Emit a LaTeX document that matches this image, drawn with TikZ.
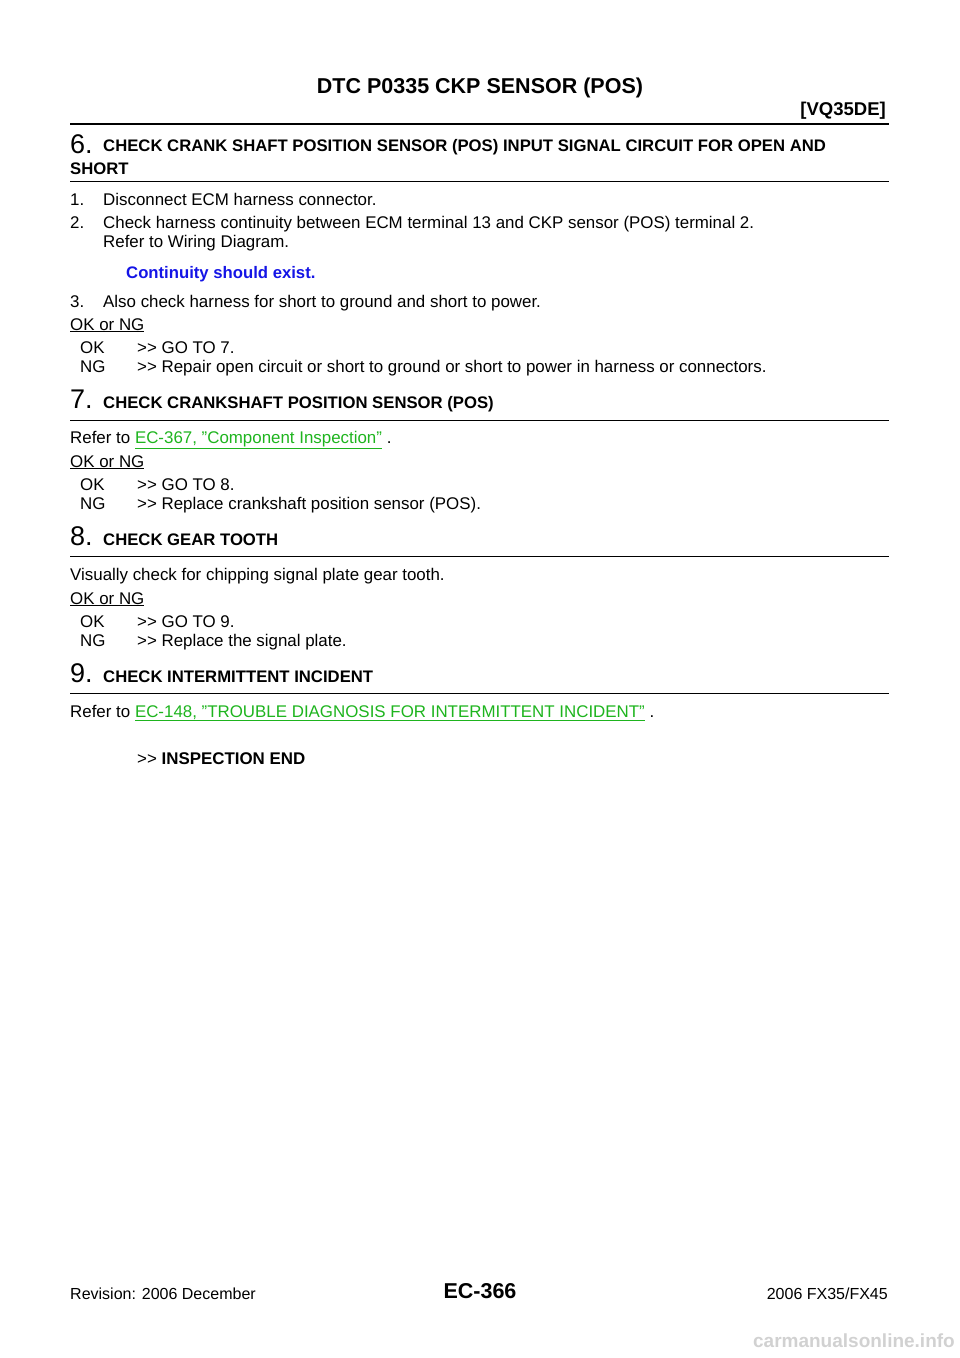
\documentclass[tikz,border=0pt]{standalone}
\usepackage{fontspec}
\setmainfont{Liberation Sans}[Ligatures=ResetAll]
\definecolor{lnk}{RGB}{30,180,30}
\definecolor{blu}{RGB}{20,20,230}
\newcommand{\qq}{"}
\newcommand{\arrgo}{>{}>}
\begin{document}
\begin{tikzpicture}[x=1pt,y=-1pt,
  t/.style={anchor=base west,inner sep=0pt,font=\fontsize{16.9}{20}\selectfont},
  hd/.style={anchor=base west,inner sep=0pt,font=\fontsize{16.7}{20}\selectfont\bfseries},
  num/.style={anchor=base west,inner sep=0pt,font=\fontsize{27}{30}\selectfont},
  rule/.style={line width=0.8pt}]
\useasboundingbox (0,0) rectangle (960,1358);
\node[anchor=base,inner sep=0pt,font=\fontsize{21.5}{24}\selectfont\bfseries] (title) at (480,93) {DTC P0335 CKP SENSOR (POS)};
\node[anchor=base east,inner sep=0pt,font=\fontsize{18.5}{22}\selectfont\bfseries] (eng) at (886,115) {[VQ35DE]};
\draw[line width=2pt] (70,124) -- (889,124);
% 6
\node[num] (n6) at (70,153) {6.};
\node[hd] (h6) at (103,151) {CHECK CRANK SHAFT POSITION SENSOR (POS) INPUT SIGNAL CIRCUIT FOR OPEN AND};
\node[hd] (h6b) at (70,174) {SHORT};
\draw[rule] (70,181) -- (889,181);
\node[t] at (70,205) {1.};\node[t] at (103,205) {Disconnect ECM harness connector.};
\node[t] at (70,228) {2.};\node[t] at (103,228) {Check harness continuity between ECM terminal 13 and CKP sensor (POS) terminal 2.};
\node[t] at (103,247) {Refer to Wiring Diagram.};
\node[hd,text=blu] at (126,278) {Continuity should exist.};
\node[t] at (70,307) {3.};\node[t] at (103,307) {Also check harness for short to ground and short to power.};
\node[t] at (70,330) {\underline{OK or NG}};
\node[t] at (80,353) {OK};\node[t] at (137,353) {\arrgo{} GO TO 7.};
\node[t] at (80,372) {NG};\node[t] at (137,372) {\arrgo{} Repair open circuit or short to ground or short to power in harness or connectors.};
% 7
\node[num] (n7) at (70,408) {7.};
\node[hd] at (103,408) {CHECK CRANKSHAFT POSITION SENSOR (POS)};
\draw[rule] (70,420) -- (889,420);
\node[t] at (70,443) {Refer to \textcolor{lnk}{\underline{EC-367, \qq Component Inspection\qq}} .};
\node[t] at (70,467) {\underline{OK or NG}};
\node[t] at (80,490) {OK};\node[t] at (137,490) {\arrgo{} GO TO 8.};
\node[t] at (80,509) {NG};\node[t] at (137,509) {\arrgo{} Replace crankshaft position sensor (POS).};
% 8
\node[num] at (70,545) {8.};
\node[hd] at (103,545) {CHECK GEAR TOOTH};
\draw[rule] (70,556) -- (889,556);
\node[t] at (70,580) {Visually check for chipping signal plate gear tooth.};
\node[t] at (70,604) {\underline{OK or NG}};
\node[t] at (80,627) {OK};\node[t] at (137,627) {\arrgo{} GO TO 9.};
\node[t] at (80,646) {NG};\node[t] at (137,646) {\arrgo{} Replace the signal plate.};
% 9
\node[num] at (70,682) {9.};
\node[hd] at (103,682) {CHECK INTERMITTENT INCIDENT};
\draw[rule] (70,693) -- (889,693);
\node[t] at (70,717) {Refer to \textcolor{lnk}{\underline{EC-148, \qq TROUBLE DIAGNOSIS FOR INTERMITTENT INCIDENT\qq}} .};
\node[t] at (137,764) {\arrgo{} \textbf{INSPECTION END}};
% footer
\node[t,font=\fontsize{16}{19}\selectfont] at (70,1299) {Revision: 2006 December};
\node[anchor=base,inner sep=0pt,font=\fontsize{21.5}{24}\selectfont\bfseries] at (480,1298) {EC-366};
\node[t,anchor=base east,font=\fontsize{16}{19}\selectfont] at (888,1299) {2006 FX35/FX45};
\node[anchor=base east,inner sep=0pt,font=\fontsize{19}{22}\selectfont\bfseries,text=black!18] at (955,1347) {carmanualsonline.info};
\end{tikzpicture}
\end{document}
